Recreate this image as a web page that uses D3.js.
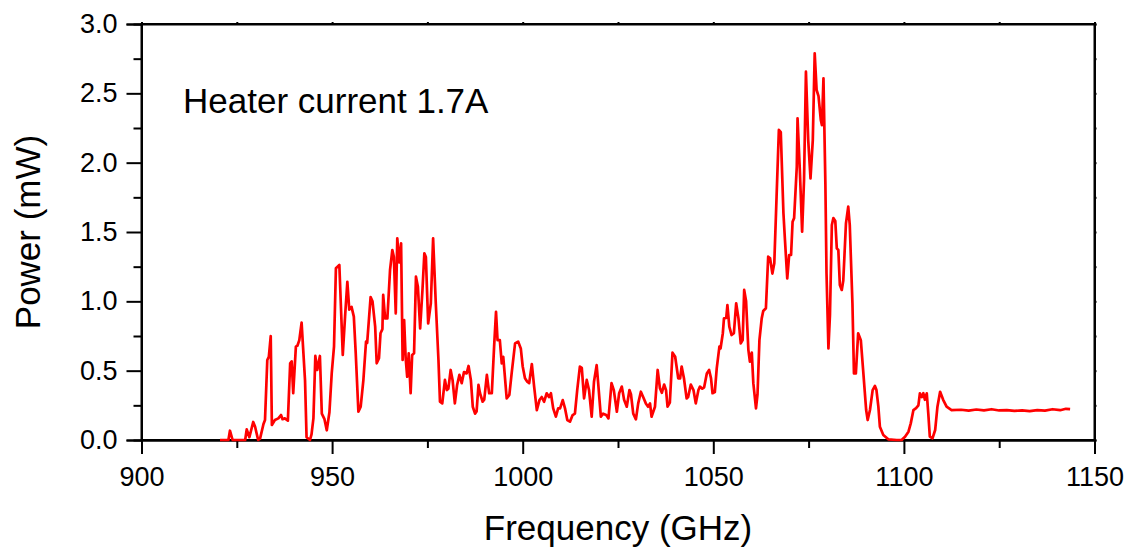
<!DOCTYPE html>
<html><head><meta charset="utf-8">
<script src="https://cdn.jsdelivr.net/npm/d3@7"></script>
<style>body{margin:0;background:#fff}svg{display:block}text{font-family:"Liberation Sans",Arial,sans-serif;fill:#000}</style>
</head><body><svg id="c" width="1144" height="558"></svg>
<script>
const freq = [920.6,922.8,923.2,923.9,927.2,927.6,928.3,929.3,929.8,930.6,931.1,932.0,932.4,933.0,933.4,933.9,934.2,935.0,935.9,936.6,937.0,937.6,938.4,939.0,939.4,939.8,940.5,940.9,941.4,942.0,942.9,943.3,944.2,944.6,945.1,945.6,946.1,946.8,947.3,948.0,948.6,949.3,949.9,950.5,951.0,951.9,952.8,953.4,954.0,954.5,955.1,955.7,956.2,956.9,957.5,958.2,958.9,959.2,960.1,960.6,961.3,961.7,962.3,962.7,963.2,963.4,963.9,964.5,965.2,965.8,966.2,966.7,967.1,967.6,968.1,968.5,968.9,969.3,969.7,970.1,970.6,971.0,971.5,972.0,972.5,973.1,973.7,974.2,974.6,975.2,975.9,976.5,977.2,977.9,978.3,978.9,979.6,980.1,980.5,981.1,981.6,982.2,982.8,983.4,984.0,984.6,985.3,985.8,986.4,986.9,987.5,987.9,988.4,988.8,989.5,989.9,990.6,991.2,991.9,992.5,993.0,993.4,994.0,994.5,994.9,995.8,996.5,997.1,998.0,998.8,999.5,1000.0,1000.6,1001.2,1001.7,1002.4,1003.0,1003.7,1004.4,1005.0,1005.6,1006.3,1006.9,1007.4,1008.0,1008.7,1009.3,1009.8,1010.5,1011.1,1011.7,1012.4,1013.1,1013.7,1014.3,1015.0,1015.5,1016.1,1016.8,1017.4,1018.1,1018.7,1019.4,1019.8,1020.5,1021.1,1021.9,1022.5,1023.3,1023.9,1024.7,1025.3,1026.0,1026.6,1027.3,1028.0,1028.4,1029.0,1029.7,1030.3,1031.0,1031.6,1032.3,1032.9,1033.4,1033.8,1034.7,1035.4,1036.0,1036.5,1037.1,1037.6,1038.0,1038.6,1039.3,1040.0,1040.8,1041.3,1041.7,1042.3,1043.0,1043.4,1044.1,1044.8,1045.4,1046.1,1046.5,1047.1,1047.6,1048.3,1048.9,1049.4,1049.8,1050.4,1050.9,1051.6,1051.9,1052.5,1052.8,1053.4,1053.7,1054.2,1054.8,1055.4,1056.0,1056.6,1057.2,1057.7,1058.1,1058.6,1059.2,1059.6,1060.1,1060.5,1061.2,1061.6,1062.1,1062.7,1063.1,1063.8,1064.4,1064.9,1065.5,1066.0,1066.6,1067.2,1067.7,1068.4,1068.8,1069.4,1069.9,1070.4,1070.8,1071.2,1071.9,1072.1,1072.7,1073.3,1073.8,1074.3,1074.9,1075.5,1076.1,1076.6,1077.1,1077.6,1078.2,1078.5,1078.9,1079.4,1079.7,1080.2,1080.6,1081.1,1081.5,1082.0,1082.4,1082.8,1083.2,1083.7,1084.1,1084.8,1085.4,1085.8,1086.5,1086.9,1087.4,1088.0,1088.7,1089.3,1090.1,1090.5,1091.1,1091.8,1092.4,1092.8,1093.3,1093.7,1094.6,1095.9,1098.1,1099.4,1100.3,1101.2,1101.8,1102.5,1103.2,1103.8,1104.2,1104.7,1105.1,1105.5,1106.0,1106.4,1106.8,1107.5,1108.2,1108.8,1109.5,1110.3,1111.2,1112.5,1115,1117,1119,1121,1123,1125,1127,1129,1131,1133,1135,1137,1139,1141,1142.5,1143.6];
const power = [0,0,0.067,0,0,0.077,0.02,0.13,0.096,0,0.01,0.115,0.144,0.577,0.60,0.75,0.108,0.144,0.156,0.18,0.15,0.156,0.14,0.553,0.567,0.337,0.673,0.68,0.72,0.846,0.43,0.02,0,0.04,0.156,0.606,0.505,0.606,0.19,0.15,0.07,0.2,0.48,0.673,1.238,1.262,0.613,0.89,1.14,0.94,0.96,0.89,0.625,0.204,0.24,0.43,0.71,0.70,1.03,1.0,0.817,0.553,0.59,0.77,0.80,1.046,0.877,0.877,1.226,1.37,1.32,0.913,1.454,1.28,1.418,0.577,0.865,0.59,0.456,0.625,0.337,0.613,0.625,1.178,1.106,0.805,1.08,1.346,1.32,0.84,0.986,1.454,0.986,0.577,0.276,0.264,0.433,0.36,0.37,0.505,0.433,0.264,0.397,0.47,0.41,0.49,0.48,0.534,0.433,0.24,0.19,0.205,0.397,0.337,0.276,0.29,0.469,0.337,0.337,0.673,0.925,0.72,0.72,0.553,0.6,0.3,0.325,0.48,0.697,0.71,0.66,0.53,0.445,0.42,0.41,0.548,0.385,0.216,0.288,0.31,0.276,0.337,0.31,0.337,0.228,0.168,0.228,0.228,0.288,0.228,0.144,0.132,0.18,0.19,0.36,0.529,0.52,0.3,0.433,0.36,0.168,0.42,0.54,0.41,0.168,0.19,0.18,0.156,0.41,0.36,0.204,0.337,0.385,0.29,0.24,0.36,0.33,0.19,0.149,0.264,0.348,0.31,0.264,0.24,0.264,0.168,0.24,0.505,0.373,0.34,0.4,0.36,0.24,0.27,0.63,0.6,0.445,0.445,0.53,0.445,0.3,0.31,0.4,0.36,0.264,0.36,0.385,0.37,0.38,0.48,0.505,0.445,0.337,0.345,0.517,0.673,0.66,0.77,0.877,0.88,0.973,0.817,0.757,0.77,0.986,0.877,0.697,0.72,1.082,1.0,0.65,0.565,0.63,0.41,0.228,0.33,0.72,0.877,0.93,0.95,1.322,1.31,1.2,1.274,1.755,2.236,2.22,1.635,1.442,1.166,1.334,1.334,1.574,1.6,1.97,2.32,1.947,1.502,1.875,2.656,2.163,1.887,2.163,2.788,2.524,2.48,2.308,2.27,2.608,1.851,1.202,0.661,0.9,1.55,1.6,1.58,1.382,1.37,1.118,1.082,1.15,1.562,1.683,1.55,0.986,0.48,0.48,0.77,0.72,0.505,0.216,0.144,0.216,0.36,0.39,0.36,0.24,0.096,0.036,0.005,0,0,0.024,0.06,0.12,0.216,0.23,0.25,0.337,0.31,0.337,0.29,0.337,0.19,0.024,0.012,0.072,0.24,0.348,0.29,0.24,0.216,0.218,0.212,0.22,0.214,0.222,0.213,0.216,0.21,0.214,0.208,0.215,0.212,0.222,0.215,0.225,0.222];
const xTicks = [900,950,1000,1050,1100,1150];
const yTicks = [0,0.5,1.0,1.5,2.0,2.5,3.0];
const title = "Heater current 1.7A";
const xLabel = "Frequency (GHz)";
const yLabel = "Power (mW)";

const L=141.5,R=1094.5,T=24,B=440;
const svg=d3.select("#c");
const x=d3.scaleLinear().domain([900,1150]).range([L,R]);
const y=d3.scaleLinear().domain([0,3]).range([B,T]);
const xMinor=d3.range(925,1150,50), yMinor=d3.range(0.25,3,0.5);

svg.append("rect").attr("x",L).attr("y",T).attr("width",R-L).attr("height",B-T)
  .attr("fill","none").attr("stroke","#000").attr("stroke-width",2);

svg.append("g").attr("transform",`translate(0,${B})`)
  .call(d3.axisBottom(x).tickValues(xTicks).tickSize(14).tickPadding(13).tickFormat(d3.format("d")));
svg.append("g").attr("transform",`translate(0,${B})`)
  .call(d3.axisBottom(x).tickValues(xMinor).tickSize(8).tickFormat(""));
svg.append("g").attr("transform",`translate(${L},0)`)
  .call(d3.axisLeft(y).tickValues(yTicks).tickSize(15).tickPadding(9).tickFormat(d3.format(".1f")));
svg.append("g").attr("transform",`translate(${L},0)`)
  .call(d3.axisLeft(y).tickValues(yMinor).tickSize(8).tickFormat(""));
svg.append("g").attr("transform",`translate(0,${T})`)
  .call(d3.axisTop(x).tickValues(xTicks.concat(xMinor)).tickSize(2).tickFormat(""));
svg.append("g").attr("transform",`translate(${R},0)`)
  .call(d3.axisRight(y).tickValues(yTicks.concat(yMinor)).tickSize(2).tickFormat(""));

svg.selectAll(".domain").attr("stroke","#000").attr("stroke-width",2);
svg.selectAll(".tick line").attr("stroke","#000").attr("stroke-width",2);
svg.selectAll(".tick text").style("font-size","27px").attr("font-family",null);

const data=freq.map((f,i)=>[f,power[i]]);
svg.append("path").datum(data).attr("fill","none").attr("stroke","#ff0000")
  .attr("stroke-width",2.7).attr("stroke-linejoin","round")
  .attr("d",d3.line().x(d=>x(d[0])).y(d=>y(d[1])));

svg.append("text").attr("x",183).attr("y",113).style("font-size","35px").text(title);
svg.append("text").attr("x",(L+R)/2).attr("y",540).attr("text-anchor","middle").style("font-size","35px").text(xLabel);
svg.append("text").attr("transform",`translate(40,${(T+B)/2}) rotate(-90)`).attr("text-anchor","middle").style("font-size","35px").text(yLabel);
</script></body></html>
